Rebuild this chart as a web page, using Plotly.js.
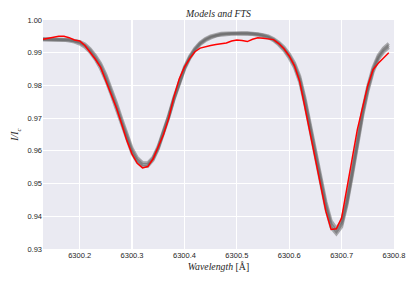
<!DOCTYPE html>
<html><head><meta charset="utf-8">
<script src="https://cdn.plot.ly/plotly-3.0.1.min.js"></script>
<style>html,body{margin:0;padding:0;background:#fff}#plot{width:415px;height:286px}</style>
</head><body><div id="plot"></div>
<script>
const wavelength = [6300.13,6300.14,6300.15,6300.16,6300.17,6300.18,6300.19,6300.20,6300.21,6300.22,6300.23,6300.24,6300.25,6300.26,6300.27,6300.28,6300.29,6300.30,6300.31,6300.32,6300.33,6300.34,6300.35,6300.36,6300.37,6300.38,6300.39,6300.40,6300.41,6300.42,6300.43,6300.44,6300.45,6300.46,6300.47,6300.48,6300.49,6300.50,6300.51,6300.52,6300.53,6300.54,6300.55,6300.56,6300.57,6300.58,6300.59,6300.60,6300.61,6300.62,6300.63,6300.64,6300.65,6300.66,6300.67,6300.68,6300.69,6300.70,6300.71,6300.72,6300.73,6300.74,6300.75,6300.76,6300.77,6300.78,6300.79];

const model1 = [0.9941,0.9941,0.9941,0.9941,0.9940,0.9939,0.9936,0.9931,0.9922,0.9907,0.9886,0.9860,0.9825,0.9783,0.9738,0.9690,0.9642,0.9600,0.9572,0.9558,0.9558,0.9576,0.9610,0.9654,0.9705,0.9760,0.9810,0.9852,0.9885,0.9910,0.9928,0.9940,0.9948,0.9953,0.9956,0.9958,0.9959,0.9959,0.9959,0.9959,0.9958,0.9956,0.9953,0.9948,0.9940,0.9928,0.9912,0.9890,0.9862,0.9820,0.9752,0.9672,0.9590,0.9508,0.9433,0.9375,0.9354,0.9376,0.9442,0.9530,0.9628,0.9715,0.9790,0.9848,0.9886,0.9908,0.9922];

const model2 = [0.9939,0.9939,0.9939,0.9939,0.9938,0.9936,0.9933,0.9927,0.9917,0.9901,0.9879,0.9851,0.9815,0.9773,0.9727,0.9680,0.9633,0.9592,0.9565,0.9552,0.9553,0.9572,0.9606,0.9651,0.9702,0.9757,0.9807,0.9849,0.9882,0.9907,0.9925,0.9937,0.9945,0.9951,0.9954,0.9956,0.9957,0.9957,0.9957,0.9957,0.9956,0.9954,0.9951,0.9946,0.9937,0.9924,0.9907,0.9884,0.9855,0.9811,0.9742,0.9661,0.9579,0.9497,0.9423,0.9366,0.9346,0.9368,0.9434,0.9521,0.9619,0.9706,0.9782,0.9841,0.9880,0.9902,0.9916];

const model3 = [0.9943,0.9943,0.9943,0.9942,0.9941,0.9940,0.9938,0.9934,0.9926,0.9912,0.9892,0.9867,0.9833,0.9792,0.9747,0.9699,0.9651,0.9608,0.9579,0.9564,0.9563,0.9580,0.9614,0.9658,0.9709,0.9764,0.9814,0.9856,0.9889,0.9914,0.9931,0.9943,0.9951,0.9956,0.9959,0.9960,0.9961,0.9961,0.9961,0.9961,0.9960,0.9958,0.9955,0.9951,0.9943,0.9932,0.9917,0.9896,0.9869,0.9828,0.9761,0.9682,0.9600,0.9519,0.9444,0.9386,0.9363,0.9385,0.9451,0.9540,0.9637,0.9724,0.9798,0.9855,0.9892,0.9914,0.9928];

const fts = [0.9941,0.9944,0.9946,0.9950,0.9950,0.9946,0.9939,0.9936,0.9922,0.9902,0.9880,0.9855,0.9815,0.9775,0.9732,0.9683,0.9632,0.9590,0.9562,0.9548,0.9552,0.9575,0.9612,0.9650,0.9700,0.9765,0.9820,0.9856,0.9882,0.9903,0.9914,0.9919,0.9922,0.9925,0.9928,0.9930,0.9936,0.9939,0.9937,0.9934,0.9941,0.9946,0.9944,0.9943,0.9940,0.9928,0.9912,0.9890,0.9860,0.9812,0.9732,0.9651,0.9570,0.9490,0.9415,0.9360,0.9362,0.9395,0.9480,0.9575,0.9665,0.9735,0.9800,0.9848,0.9868,0.9884,0.9900];

const xTicks = [6300.2,6300.3,6300.4,6300.5,6300.6,6300.7,6300.8];
const xTickText = ['6300.2','6300.3','6300.4','6300.5','6300.6','6300.7','6300.8'];
const yTicks = [0.93,0.94,0.95,0.96,0.97,0.98,0.99,1.00];
const yTickText = ['0.93','0.94','0.95','0.96','0.97','0.98','0.99','1.00'];

const grayLine = {color:'rgba(95,95,95,0.5)', width:3.2};
const traces = [model1, model2, model3].map(m => ({
  x: wavelength, y: m, type:'scatter', mode:'lines', line: grayLine, hoverinfo:'skip'
}));
traces.push({x: wavelength, y: fts, type:'scatter', mode:'lines', line:{color:'#ff0000', width:1.5}});

const tickFont = {family:'Liberation Sans, Arial, sans-serif', size:7.5, color:'#262626'};
const serif = {family:'Liberation Serif, Times New Roman, serif', size:9.8, color:'#262626'};

const layout = {
  width:415, height:286,
  margin:{l:43, r:21, t:20, b:37, pad:0},
  paper_bgcolor:'#ffffff', plot_bgcolor:'#EAEAF2',
  showlegend:false,
  title:{text:'<i>Models and FTS</i>', font:serif, x:0.5, xref:'paper', y:1, yref:'paper', yanchor:'bottom', pad:{b:3}},
  xaxis:{range:[6300.13,6300.8], tickvals:xTicks, ticktext:xTickText, tickfont:tickFont,
    showgrid:true, gridcolor:'#ffffff', gridwidth:1.2, zeroline:false, showline:false, ticks:'', ticklen:0,
    title:{text:'<i>Wavelength</i> [Å]', font:serif, standoff:4}},
  yaxis:{range:[0.93,1.00], tickvals:yTicks, ticktext:yTickText, tickfont:tickFont,
    showgrid:true, gridcolor:'#ffffff', gridwidth:1.2, zeroline:false, showline:false, ticks:'', ticklen:0,
    title:{text:'<i>I/I<sub>c</sub></i>', font:serif, standoff:6}}
};
Plotly.newPlot('plot', traces, layout, {staticPlot:true, displayModeBar:false});
</script></body></html>
